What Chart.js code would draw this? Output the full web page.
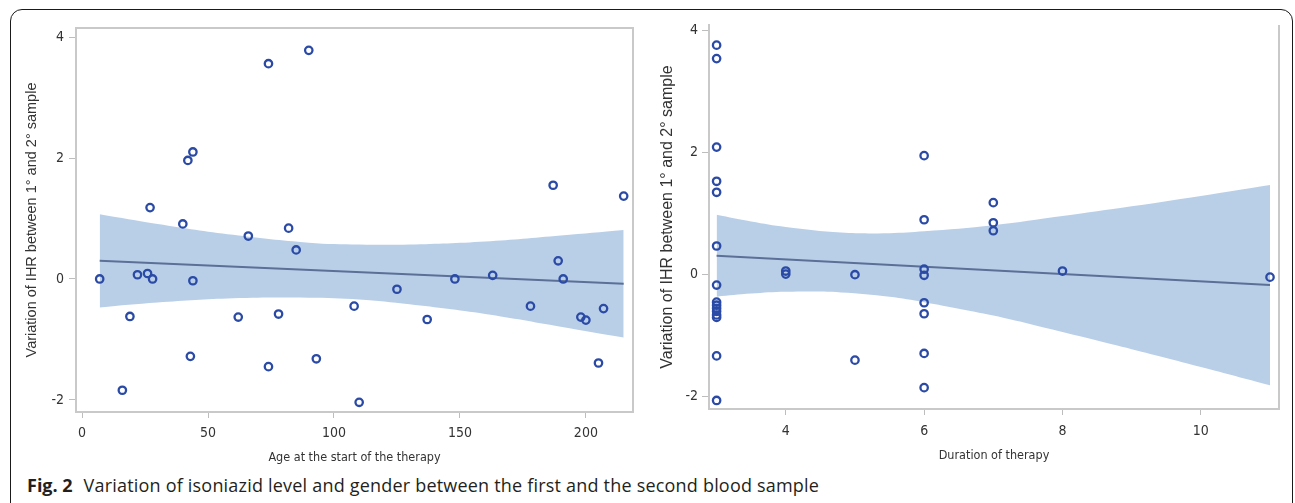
<!DOCTYPE html>
<html>
<head>
<meta charset="utf-8">
<script src="https://cdn.jsdelivr.net/npm/chart.js@4.4.1/dist/chart.umd.min.js"></script>
<style>
  html, body { margin: 0; padding: 0; background: #fff; }
  body { width: 1295px; height: 503px; position: relative; overflow: hidden; }
  #frame { position: absolute; left: 10px; top: 9px; width: 1283px; height: 600px;
           border: 1px solid #1a1a1a; border-radius: 12px; box-sizing: border-box; }
  #left { position: absolute; left: 0; top: 0; }
  #right { position: absolute; left: 650px; top: 0; }
  #caption { position: absolute; left: 27px; top: 475px; line-height: 20px; letter-spacing: 0.2px;
             font-family: "Open Sans", "Noto Sans", sans-serif; font-size: 18px; color: #231f20; white-space: nowrap; }
  #caption b { font-weight: 700; margin-right: 6px; letter-spacing: 0; }
</style>
</head>
<body>
<div id="frame"></div>
<canvas id="left" width="650" height="470"></canvas>
<canvas id="right" width="645" height="470"></canvas>
<div id="caption"><b>Fig. 2</b> Variation of isoniazid level and gender between the first and the second blood sample</div>
<script>
// left panel: age at start of therapy
const ageX = [74, 90, 42, 44, 27, 40, 66, 82, 85, 187, 215, 7, 22, 26, 28, 44, 19, 62, 78, 43,
  74, 93, 16, 108, 110, 125, 137, 148, 163, 178, 189, 191, 198, 200, 207, 205];
const ageY = [3.56, 3.78, 1.96, 2.10, 1.18, 0.91, 0.71, 0.84, 0.48, 1.55, 1.37, 0.0, 0.07, 0.09, 0.0, -0.03, -0.62, -0.63, -0.58, -1.28,
  -1.45, -1.32, -1.84, -0.45, -2.04, -0.17, -0.67, 0.0, 0.06, -0.45, 0.30, 0.0, -0.63, -0.68, -0.49, -1.39];
const ageFitX = [7, 215];
const ageFitY = [0.30, -0.08];
const ageBandX = [7, 30, 60, 90, 110, 130, 160, 190, 215];
const ageBandHi = [1.07, 0.91, 0.73, 0.60, 0.57, 0.57, 0.62, 0.72, 0.81];
const ageBandLo = [-0.47, -0.39, -0.32, -0.31, -0.34, -0.42, -0.58, -0.79, -0.97];
const ageTicks = [0, 50, 100, 150, 200];

// right panel: duration of therapy
const durX = [3, 3, 3, 3, 3, 3, 3, 3, 3, 3, 3, 3, 3, 3, 3,
  4, 4, 5, 5, 6, 6, 6, 6, 6, 6, 6, 6, 7, 7, 7, 8, 11];
const durY = [3.76, 3.54, 2.09, 1.53, 1.35, 0.47, -0.17, -0.45, -0.50, -0.55, -0.60, -0.66, -0.70, -1.33, -2.06,
  0.06, 0.01, 0.0, -1.40, 1.95, 0.90, 0.09, -0.01, -0.46, -0.64, -1.29, -1.85, 1.18, 0.85, 0.72, 0.06, -0.04];
const durFitX = [3, 11];
const durFitY = [0.31, -0.17];
const durBandX = [3, 3.5, 4, 4.8, 5.5, 6, 7, 8, 9, 10, 11];
const durBandHi = [0.98, 0.87, 0.78, 0.69, 0.68, 0.71, 0.81, 0.96, 1.12, 1.29, 1.47];
const durBandLo = [-0.36, -0.31, -0.28, -0.29, -0.36, -0.45, -0.67, -0.94, -1.22, -1.51, -1.81];
const durTicks = [4, 6, 8, 10];

const yTicks = [-2, 0, 2, 4];
const yTitle = 'Variation of IHR between 1\u00b0 and 2\u00b0 sample';

const NARROW = '"DejaVu Sans Condensed", "Liberation Sans Narrow", sans-serif';
const SANS = '"Liberation Sans", Arial, sans-serif';
const AXIS = '#c9c9c9';
const TICK = '#bdbdbd';
const TEXT = '#333';

const pts = (xs, ys) => xs.map((x, i) => ({ x: x, y: ys[i] }));

const framePlugin = {
  id: 'frame',
  afterDatasetsDraw(chart, args, opts) {
    const { ctx, chartArea: a } = chart;
    ctx.save();
    ctx.strokeStyle = AXIS;
    ctx.lineWidth = 2;
    ctx.beginPath();
    if (opts.top) { ctx.moveTo(a.left, a.top); ctx.lineTo(a.right, a.top); }
    ctx.moveTo(a.right, a.top - (opts.top ? 1 : 0));
    ctx.lineTo(a.right, a.bottom);
    ctx.stroke();
    ctx.restore();
  }
};

function makeChart(id, cfg) {
  return new Chart(document.getElementById(id), {
    type: 'scatter',
    data: {
      datasets: [{
        data: pts(cfg.bandX, cfg.bandHi),
        showLine: true, pointRadius: 0, borderWidth: 0, borderColor: 'rgba(0,0,0,0)',
        backgroundColor: '#b9cfe8', fill: '+1', tension: 0.4, order: 3
      }, {
        data: pts(cfg.bandX, cfg.bandLo),
        showLine: true, pointRadius: 0, borderWidth: 0, borderColor: 'rgba(0,0,0,0)',
        fill: false, tension: 0.4, order: 3
      }, {
        data: pts(cfg.fitX, cfg.fitY),
        showLine: true, pointRadius: 0, borderWidth: 2, borderColor: '#5b6f97',
        fill: false, order: 2
      }, {
        data: pts(cfg.x, cfg.y),
        pointRadius: 3.7, borderWidth: 2.3, borderColor: '#2a4aa6',
        backgroundColor: 'rgba(0,0,0,0)', order: 1
      }]
    },
    options: {
      responsive: false,
      animation: false,
      events: [],
      layout: { padding: cfg.padding },
      plugins: {
        legend: { display: false },
        tooltip: { enabled: false },
        frame: { top: cfg.top }
      },
      scales: {
        x: {
          type: 'linear', min: cfg.xMin, max: cfg.xMax,
          afterBuildTicks: s => { s.ticks = cfg.xTicks.map(v => ({ value: v })); },
          afterFit: s => { s.height = cfg.xHeight; },
          grid: { drawOnChartArea: false, tickLength: 6, tickColor: TICK },
          border: { display: true, color: AXIS, width: 2 },
          ticks: { color: TEXT, padding: cfg.xPad, maxRotation: 0, font: { family: NARROW, size: 14 } },
          title: { display: true, text: cfg.xTitle, color: TEXT, padding: { top: 0, bottom: cfg.xTitlePad },
                   font: { family: NARROW, size: 12.5 } }
        },
        y: {
          type: 'linear', min: -2.2, max: cfg.yMax,
          afterBuildTicks: s => { s.ticks = yTicks.map(v => ({ value: v })); },
          afterFit: s => { s.width = cfg.yWidth; },
          grid: { drawOnChartArea: false, tickLength: 7, tickColor: TICK },
          border: { display: true, color: AXIS, width: 2 },
          ticks: { color: TEXT, padding: cfg.yPad, font: { family: NARROW, size: 14 } },
          title: { display: true, text: yTitle, color: TEXT, padding: { top: cfg.yTitlePad, bottom: 0 },
                   font: { family: SANS, size: cfg.yTitleSize } }
        }
      }
    },
    plugins: [framePlugin]
  });
}

makeChart('left', {
  x: ageX, y: ageY, fitX: ageFitX, fitY: ageFitY,
  bandX: ageBandX, bandHi: ageBandHi, bandLo: ageBandLo,
  xTicks: ageTicks, xMin: -2.4, xMax: 218.7, yMax: 4.15,
  padding: { top: 28, right: 17, left: 0, bottom: 0 },
  xHeight: 58, yWidth: 76, xPad: 7, yPad: 5, xTitlePad: 5, yTitlePad: 23, yTitleSize: 14.5,
  xTitle: 'Age at the start of the therapy', top: true
});

makeChart('right', {
  x: durX, y: durY, fitX: durFitX, fitY: durFitY,
  bandX: durBandX, bandHi: durBandHi, bandLo: durBandLo,
  xTicks: durTicks, xMin: 2.89, xMax: 11.13, yMax: 4.09,
  padding: { top: 25, right: 16, left: 0, bottom: 0 },
  xHeight: 61, yWidth: 59, xPad: 8, yPad: 4, xTitlePad: 7, yTitlePad: 8, yTitleSize: 16,
  xTitle: 'Duration of therapy', top: false
});
</script>
</body>
</html>
